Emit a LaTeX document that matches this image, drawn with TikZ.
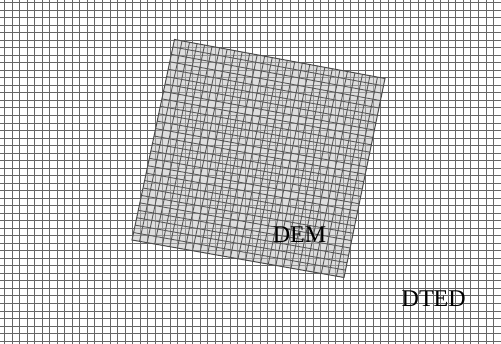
\documentclass[tikz,border=0pt]{standalone}
\usepackage{fontspec}
\setmainfont{Liberation Serif}
\usetikzlibrary{calc}
\tikzset{
  bggrid/.style={draw=black!60, line width=0.95pt},
  demgrid/.style={draw=black!65, line width=0.9pt},
  demfill/.style={fill=black!25, fill opacity=0.5},
  demborder/.style={draw=black!70, line width=1pt},
  lbl/.style={font=\fontsize{24}{28}\selectfont, inner sep=0pt, anchor=base}
}
\begin{document}
\begin{tikzpicture}[x=1pt,y=1pt]
\useasboundingbox (0,0) rectangle (501,344);
\fill[white] (0,0) rectangle (501,344);
% background grid
\foreach \k in {0,...,66} {
  \draw[bggrid] ({4.7+7.52*\k},0) -- ({4.7+7.52*\k},344);
}
\foreach \k in {0,...,45} {
  \draw[bggrid] (0,{341.3-7.52*\k}) -- (501,{341.3-7.52*\k});
}
% DEM corners
\coordinate (TL) at (174.5,304.5);
\coordinate (TR) at (385,265.5);
\coordinate (BR) at (344,66.5);
\coordinate (BL) at (132,104);
\path[demfill] (TL) -- (TR) -- (BR) -- (BL) -- cycle;
\foreach \i in {1,...,27} {
  \draw[demgrid] ($(BL)!{\i/28}!(BR)$) -- ($(TL)!{\i/28}!(TR)$);
}
\foreach \j in {1,...,26} {
  \draw[demgrid] ($(BL)!{\j/27}!(TL)$) -- ($(BR)!{\j/27}!(TR)$);
}
\draw[demborder] (TL) -- (TR) -- (BR) -- (BL) -- cycle;
\node[lbl] (dem) at (299.5,101) {DEM};
\node[lbl] (dted) at (433.7,37.3) {DTED};
\end{tikzpicture}
\end{document}
